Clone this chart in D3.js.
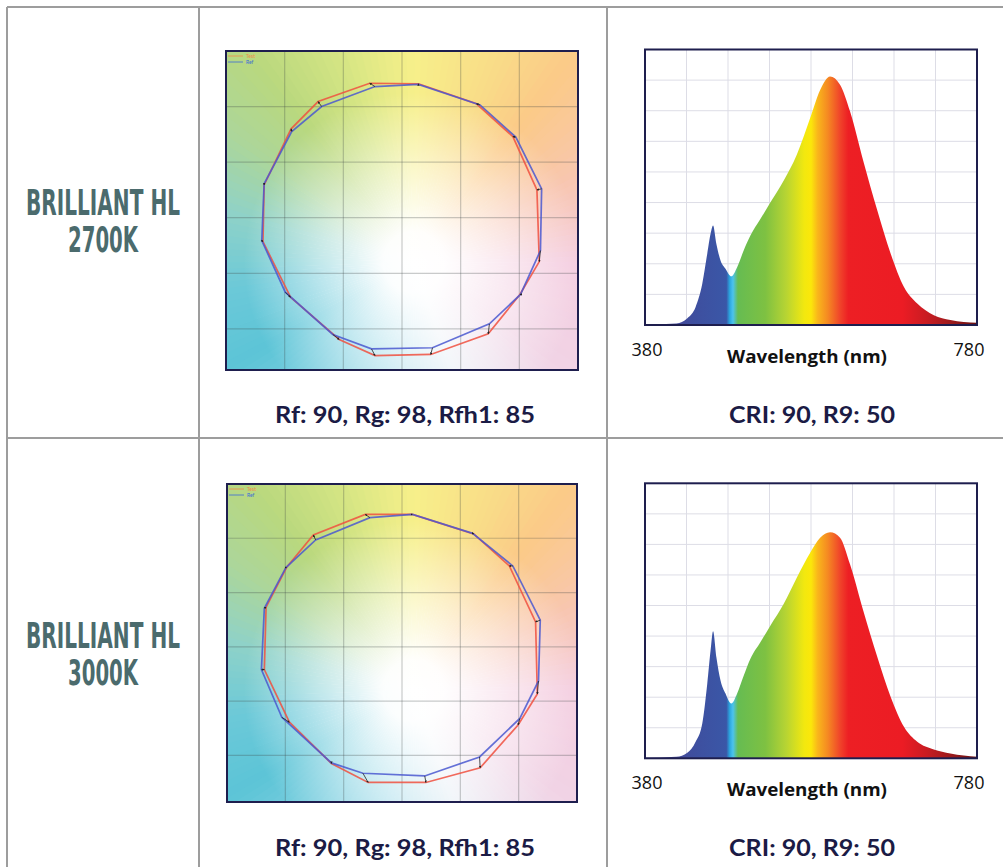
<!DOCTYPE html>
<html>
<head>
<meta charset="utf-8">
<script src="https://cdn.jsdelivr.net/npm/d3@7"></script>
<style>
  body { margin: 0; background: #fff; }
</style>
</head>
<body>
<div id="chart"></div>
<script>
// ---- data ----
const products = ["BRILLIANT HL", "BRILLIANT HL"];
const cctLabels = ["2700K", "3000K"];
const cvgCaptions = ["Rf: 90, Rg: 98, Rfh1: 85", "Rf: 90, Rg: 98, Rfh1: 85"];
const sprCaptions = ["CRI: 90, R9: 50", "CRI: 90, R9: 50"];

// colour vector graphic, 16 hue bins, [x, y] in grid units
const cvgTest1 = [[-0.55,2.42],[0.28,2.41],[1.27,2.05],[1.89,1.46],[2.30,0.50],[2.34,-0.79],[2.01,-1.38],[1.47,-2.09],
                  [0.49,-2.46],[-0.46,-2.48],[-1.07,-2.19],[-1.90,-1.43],[-2.37,-0.43],[-2.35,0.59],[-1.89,1.60],[-1.43,2.09]];
const cvgRef1  = [[-0.46,2.36],[0.28,2.40],[1.33,2.03],[1.94,1.45],[2.38,0.52],[2.36,-0.59],[2.02,-1.38],[1.49,-1.91],
                  [0.52,-2.34],[-0.52,-2.36],[-1.18,-2.10],[-1.99,-1.34],[-2.39,-0.41],[-2.35,0.61],[-1.88,1.55],[-1.37,2.00]];
const cvgTest2 = [[-0.63,2.44],[0.18,2.44],[1.23,2.08],[1.84,1.49],[2.29,0.46],[2.32,-0.87],[1.99,-1.44],[1.34,-2.23],
                  [0.41,-2.50],[-0.58,-2.50],[-1.21,-2.15],[-1.93,-1.39],[-2.36,-0.42],[-2.33,0.73],[-1.98,1.46],[-1.52,2.06]];
const cvgRef2  = [[-0.55,2.38],[0.18,2.44],[1.21,2.09],[1.90,1.49],[2.37,0.49],[2.34,-0.63],[2.02,-1.32],[1.33,-2.03],
                  [0.39,-2.38],[-0.67,-2.33],[-1.21,-2.14],[-2.06,-1.30],[-2.41,-0.42],[-2.36,0.71],[-1.99,1.46],[-1.48,1.97]];
const cvgGrid = [-2, -1, 0, 1, 2];

// spectra, relative power
const wavelengths = [380,418,431,441,449,455,459,462,466,471,477,484,491,499,507,519,531,547,563,579,591,603,615,627,643,660,676,692,708,728,748,780];
const spd2700 = [0.02,0.05,0.22,0.59,1.35,2.33,2.98,3.25,2.65,2.11,1.84,1.59,1.89,2.44,2.92,3.46,4.00,4.71,5.57,6.76,7.68,8.12,7.85,6.98,5.36,3.73,2.33,1.24,0.70,0.32,0.16,0.07];
const spd3000 = [0.02,0.05,0.18,0.54,1.14,2.44,3.53,4.16,3.31,2.55,2.12,1.79,2.12,2.71,3.26,3.80,4.34,5.05,5.92,6.73,7.22,7.40,7.22,6.35,4.83,3.31,2.01,1.03,0.54,0.29,0.16,0.05];
const specXTicks = [430, 480, 530, 580, 630, 680, 730];
const specYTicks = [1, 2, 3, 4, 5, 6, 7, 8];
const specEnds = [380, 780];

// colours
const specStops = [[380,"#4d3f8e"],[440,"#3e4f9f"],[478,"#3a57a7"],[482,"#2ba6df"],[486,"#4cc3ee"],[492,"#66bc52"],
                   [525,"#7ec142"],[550,"#b7d433"],[572,"#f2e80f"],[580,"#fbe70a"],[588,"#f9b61b"],[600,"#f58a22"],
                   [615,"#f0442a"],[625,"#ed1f24"],[690,"#ec1c24"],[720,"#c81c22"],[750,"#9a1a1c"],[780,"#6a1010"]];
const hueStops = [[0,"#f7f08a"],[22,"#f9dc88"],[38,"#fbca88"],[62,"#f8c6b0"],[90,"#f4cde0"],[125,"#f1d3e5"],[160,"#eaf0f6"],
                  [190,"#b4e2ee"],[240,"#5cc4d7"],[262,"#6cc9d8"],[285,"#8fd2c8"],[305,"#acd69a"],[322,"#b9d87e"],
                  [342,"#d8e684"],[360,"#f7f08a"]];

const W = 1003, H = 867;
const svg = d3.select("#chart").append("svg")
    .attr("width", W).attr("height", H);
const defs = svg.append("defs");

// table lines
const grey = "#9d9d9d";
[[7, 7, W, 7], [7, 438, W, 438], [7, 7, 7, H], [199, 7, 199, H], [607, 7, 607, H]].forEach(l => {
  svg.append("line").attr("x1", l[0]).attr("y1", l[1]).attr("x2", l[2]).attr("y2", l[3])
    .attr("stroke", grey).attr("stroke-width", 2);
});

// arrow head for the cvg
defs.append("marker").attr("id", "arr")
    .attr("viewBox", "0 0 6 6").attr("refX", 5).attr("refY", 3)
    .attr("markerWidth", 3).attr("markerHeight", 3).attr("orient", "auto")
  .append("path").attr("d", "M0,0L6,3L0,6Z").attr("fill", "#222");

function drawTitle(row, dy) {
  const t = svg.append("g").attr("fill", "#4b6b6d")
      .style("font-family", "'DejaVu Sans Condensed','DejaVu Sans',sans-serif")
      .style("font-weight", "bold").style("font-size", "35px").attr("text-anchor", "middle");
  t.append("text").attr("x", 103).attr("y", 215 + dy).attr("textLength", 154)
      .attr("lengthAdjust", "spacingAndGlyphs").text(products[row]);
  t.append("text").attr("x", 103).attr("y", 252 + dy).attr("textLength", 70)
      .attr("lengthAdjust", "spacingAndGlyphs").text(cctLabels[row]);
}

function drawCVG(id, box, yBottom, test, ref) {
  const x = d3.scaleLinear().domain([-3, 3]).range([box.x, box.x + box.w]);
  const y = d3.scaleLinear().domain([3, yBottom]).range([box.y, box.y + box.h]);
  const g = svg.append("g");

  defs.append("clipPath").attr("id", "clip" + id)
    .append("rect").attr("x", box.x).attr("y", box.y).attr("width", box.w).attr("height", box.h);
  const bg = g.append("g").attr("clip-path", "url(#clip" + id + ")");

  // hue wheel background, pale in the middle
  const cx = x(0.2), cy = y(-0.8);
  const hue = d3.scaleLinear().domain(hueStops.map(d => d[0])).range(hueStops.map(d => d[1]))
      .interpolate(d3.interpolateRgb);
  const slices = d3.range(0, 360, 2);
  const arc = d3.arc().innerRadius(0).outerRadius(400);
  bg.append("g").attr("transform", "translate(" + cx + "," + cy + ")")
    .selectAll("path").data(slices).enter().append("path")
      .attr("d", a => arc({ startAngle: a * Math.PI / 180, endAngle: (a + 2.3) * Math.PI / 180 }))
      .attr("fill", a => hue(a + 1));

  const rg = defs.append("radialGradient").attr("id", "white" + id)
      .attr("gradientUnits", "userSpaceOnUse")
      .attr("cx", cx).attr("cy", cy).attr("r", 170);
  [[0, 1], [0.18, 0.97], [0.55, 0.55], [1, 0]].forEach(s => {
    rg.append("stop").attr("offset", s[0]).attr("stop-color", "#fff").attr("stop-opacity", s[1]);
  });
  bg.append("rect").attr("x", box.x).attr("y", box.y).attr("width", box.w).attr("height", box.h)
      .attr("fill", "url(#white" + id + ")");

  // grid
  g.selectAll(".vg").data(cvgGrid).enter().append("line")
      .attr("x1", d => x(d)).attr("x2", d => x(d)).attr("y1", box.y).attr("y2", box.y + box.h)
      .attr("stroke", "rgba(60,70,70,0.28)").attr("stroke-width", 1.2);
  g.selectAll(".hg").data(cvgGrid).enter().append("line")
      .attr("y1", d => y(d)).attr("y2", d => y(d)).attr("x1", box.x).attr("x2", box.x + box.w)
      .attr("stroke", "rgba(60,70,70,0.28)").attr("stroke-width", 1.2);

  const line = d3.line().x(d => x(d[0])).y(d => y(d[1])).curve(d3.curveLinearClosed);
  g.append("path").attr("d", line(test)).attr("fill", "none")
      .attr("stroke", "#f0503f").attr("stroke-opacity", 0.85).attr("stroke-width", 1.7);
  g.append("path").attr("d", line(ref)).attr("fill", "none")
      .attr("stroke", "#4a58d0").attr("stroke-opacity", 0.85).attr("stroke-width", 1.7);

  g.selectAll(".arr").data(ref).enter().append("line")
      .attr("x1", d => x(d[0])).attr("y1", d => y(d[1]))
      .attr("x2", (d, i) => x(test[i][0])).attr("y2", (d, i) => y(test[i][1]))
      .attr("stroke", "#222").attr("stroke-width", 0.8).attr("marker-end", "url(#arr)");

  // little legend
  const lg = g.append("g").style("font-family", "Lato, sans-serif").style("font-size", "5px");
  lg.append("line").attr("x1", box.x + 2).attr("x2", box.x + 17).attr("y1", box.y + 5).attr("y2", box.y + 5)
      .attr("stroke", "#f08a4a").attr("stroke-width", 0.8);
  lg.append("text").attr("x", box.x + 20).attr("y", box.y + 6.5).attr("fill", "#f08a4a").text("Test");
  lg.append("line").attr("x1", box.x + 2).attr("x2", box.x + 17).attr("y1", box.y + 11).attr("y2", box.y + 11)
      .attr("stroke", "#3a6ad8").attr("stroke-width", 0.8);
  lg.append("text").attr("x", box.x + 20).attr("y", box.y + 12.5).attr("fill", "#3a6ad8").text("Ref");

  g.append("rect").attr("x", box.x).attr("y", box.y).attr("width", box.w).attr("height", box.h)
      .attr("fill", "none").attr("stroke", "#1e1e4e").attr("stroke-width", 2);
}

function drawSpectrum(id, box, values) {
  const x = d3.scaleLinear().domain(specEnds).range([box.x, box.x + box.w]);
  const y = d3.scaleLinear().domain([0, 9]).range([box.y + box.h, box.y]);
  const g = svg.append("g");

  g.append("rect").attr("x", box.x).attr("y", box.y).attr("width", box.w).attr("height", box.h).attr("fill", "#fff");
  g.selectAll(".vg").data(specXTicks).enter().append("line")
      .attr("x1", d => x(d)).attr("x2", d => x(d)).attr("y1", box.y).attr("y2", box.y + box.h)
      .attr("stroke", "#dddde6").attr("stroke-width", 1);
  g.selectAll(".hg").data(specYTicks).enter().append("line")
      .attr("y1", d => y(d)).attr("y2", d => y(d)).attr("x1", box.x).attr("x2", box.x + box.w)
      .attr("stroke", "#dddde6").attr("stroke-width", 1);

  const lg = defs.append("linearGradient").attr("id", "spec" + id)
      .attr("gradientUnits", "userSpaceOnUse")
      .attr("x1", x(380)).attr("x2", x(780)).attr("y1", 0).attr("y2", 0);
  lg.selectAll("stop").data(specStops).enter().append("stop")
      .attr("offset", d => (d[0] - 380) / 400).attr("stop-color", d => d[1]);

  const area = d3.area().x((d, i) => x(wavelengths[i])).y0(y(0)).y1(d => y(d))
      .curve(d3.curveMonotoneX);
  g.append("path").attr("d", area(values)).attr("fill", "url(#spec" + id + ")");

  g.append("rect").attr("x", box.x).attr("y", box.y).attr("width", box.w).attr("height", box.h)
      .attr("fill", "none").attr("stroke", "#1e1e4e").attr("stroke-width", 2);

  const t = g.append("g").style("font-family", "'Open Sans', sans-serif").attr("fill", "#111");
  t.append("text").attr("x", x(380) + 2).attr("y", box.y + box.h + 31).attr("text-anchor", "middle")
      .style("font-size", "18px").text(specEnds[0]);
  t.append("text").attr("x", x(780) - 8).attr("y", box.y + box.h + 31).attr("text-anchor", "middle")
      .style("font-size", "18px").text(specEnds[1]);
  t.append("text").attr("x", 807).attr("y", box.y + box.h + 38).attr("text-anchor", "middle")
      .attr("textLength", 160).attr("lengthAdjust", "spacingAndGlyphs")
      .style("font-size", "18px").style("font-weight", "bold").text("Wavelength (nm)");
}

function drawCaptions(row, dy) {
  const c = svg.append("g").attr("fill", "#1b1b45")
      .style("font-family", "Lato, sans-serif").style("font-weight", "bold").style("font-size", "23px")
      .attr("text-anchor", "middle");
  c.append("text").attr("x", 405).attr("y", 423 + dy).attr("textLength", 260)
      .attr("lengthAdjust", "spacingAndGlyphs").text(cvgCaptions[row]);
  c.append("text").attr("x", 812).attr("y", 423 + dy).attr("textLength", 166)
      .attr("lengthAdjust", "spacingAndGlyphs").text(sprCaptions[row]);
}

drawTitle(0, 0);
drawTitle(1, 433);
drawCVG(1, { x: 226, y: 51, w: 352, h: 319 }, -2.74, cvgTest1, cvgRef1);
drawCVG(2, { x: 227, y: 484, w: 350, h: 318 }, -2.86, cvgTest2, cvgRef2);
drawSpectrum(1, { x: 645, y: 49.5, w: 332, h: 275.5 }, spd2700);
drawSpectrum(2, { x: 645, y: 483.3, w: 332, h: 275 }, spd3000);
drawCaptions(0, 0);
drawCaptions(1, 433);
</script>
</body>
</html>
